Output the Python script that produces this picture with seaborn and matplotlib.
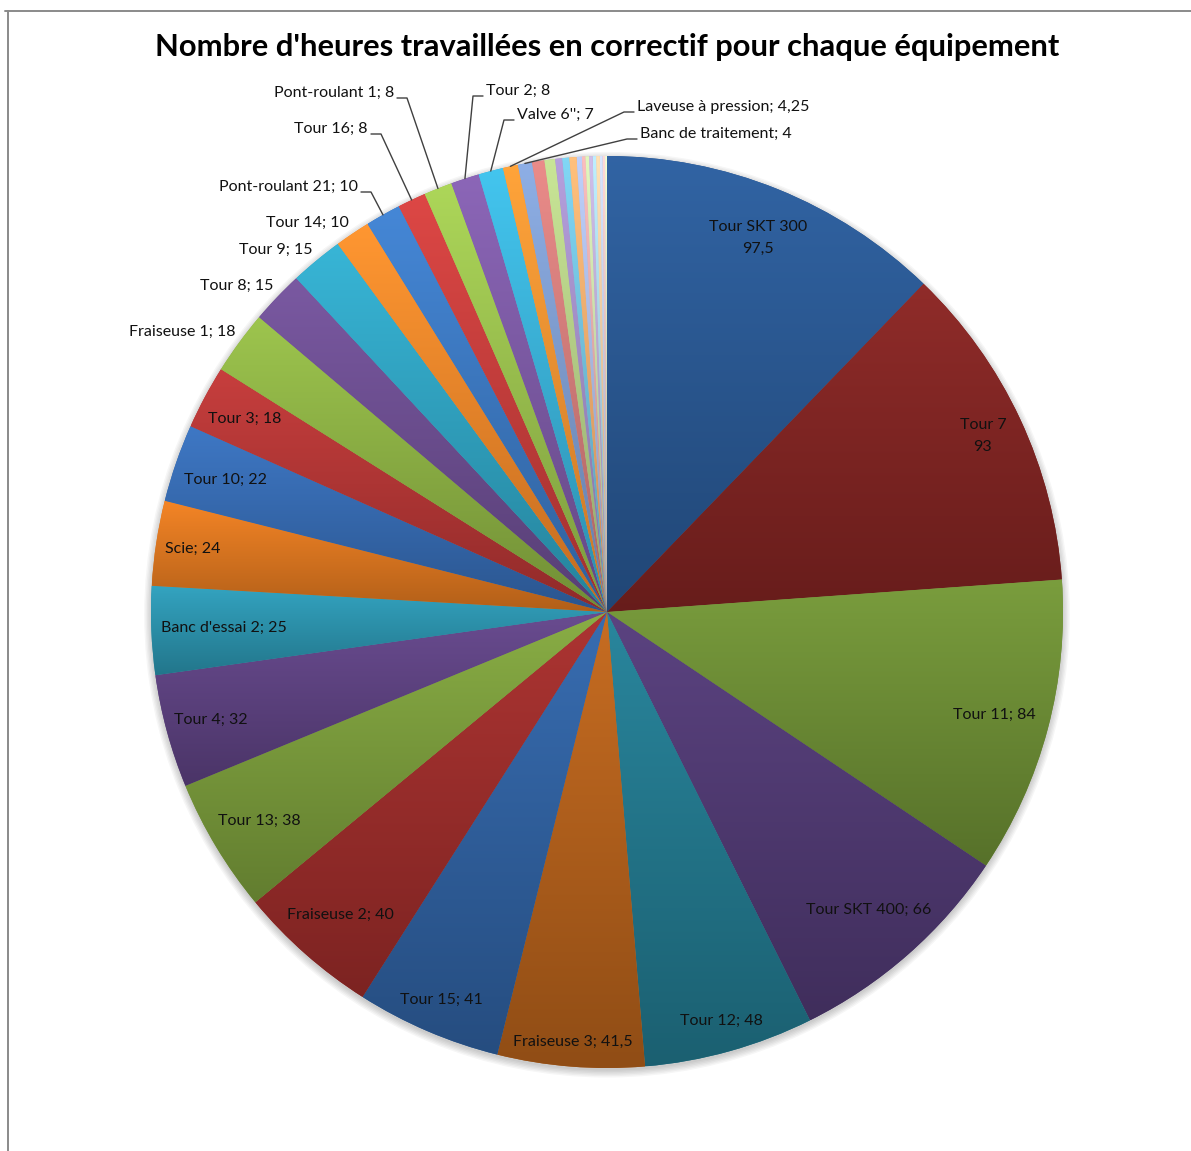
import numpy as np
import matplotlib
matplotlib.use("Agg")
import matplotlib.pyplot as plt
from matplotlib.lines import Line2D
from matplotlib.colors import to_rgb
import seaborn as sns

# ---- data -------------------------------------------------------------
equipements = [
    "Tour SKT 300", "Tour 7", "Tour 11", "Tour SKT 400", "Tour 12",
    "Fraiseuse 3", "Tour 15", "Fraiseuse 2", "Tour 13", "Tour 4",
    "Banc d'essai 2", "Scie", "Tour 10", "Tour 3", "Fraiseuse 1",
    "Tour 8", "Tour 9", "Tour 14", "Pont-roulant 21", "Tour 16",
    "Pont-roulant 1", "Tour 2", "Valve 6''", "Laveuse à pression",
    "Banc de traitement",
    "Équipement 26", "Équipement 27", "Équipement 28", "Équipement 29",
    "Équipement 30", "Équipement 31", "Équipement 32", "Équipement 33",
    "Équipement 34", "Équipement 35", "Équipement 36", "Équipement 37",
    "Équipement 38", "Équipement 39",
]
heures = [
    97.5, 93, 84, 66, 48,
    41.5, 41, 40, 38, 32,
    25, 24, 22, 18, 18,
    15, 15, 10, 10, 8,
    8, 8, 7, 4.25,
    4,
    3.5, 3, 2, 2,
    2, 1.5, 1, 1,
    1, 1, 1, 0.75,
    0.75, 0.5,
]
titre = "Nombre d'heures travaillées en correctif pour chaque équipement"

# ---- styles -------------------------------------------------------------
couleurs = [
    "#285690", "#7E2321", "#6A8A33", "#4E3870", "#21758A",
    "#B05E1A", "#2E5E9C", "#982B29", "#78993A", "#5B407E",
    "#2A90AA", "#D9741E", "#3468AE", "#B03433", "#8AAE42",
    "#6A4C8E", "#2EA0BE", "#EE8428", "#3A76BE", "#C43C3A",
    "#98BE4C", "#7A58A2", "#38AED4", "#F59030", "#7C9ACC",
    "#D07A78", "#B2CC84", "#A08CC4", "#70BEDA", "#F6AA6C",
    "#A8B8E0", "#E0A8A8", "#C8DCA8", "#B8A8D0", "#A8D4E4",
    "#F8C8A0", "#C0CCE8", "#E8C0C0", "#D8E4C0",
]
# label placement: ("in2", r) two-line inside, ("in", r) inside,
# ("out",) beside the rim, ("lead", x_px, y_px, ha) with leader line
placement = {
    0: ("in2", 0.885), 1: ("in2", 0.91), 2: ("in", 0.88), 3: ("in", 0.87),
    4: ("in", 0.93), 5: ("in", 0.945), 6: ("in", 0.925), 7: ("in", 0.885),
    8: ("in", 0.89), 9: ("in", 0.90), 10: ("in", 0.84), 11: ("in", 0.92),
    12: ("in", 0.885), 13: ("in", 0.90),
    14: ("out",), 15: ("out",), 16: ("out",), 17: ("out",),
    18: ("lead", 358, 187, "right"), 19: ("lead", 368, 129, "right"),
    20: ("lead", 394, 93, "right"), 21: ("lead", 486, 91, "left"),
    22: ("lead", 517, 115, "left"), 23: ("lead", 637, 107, "left"),
    24: ("lead", 640, 134, "left"),
}

W, H = 1191, 1151
CX, CY, R = 607, 612, 456


def to_data(px, py):
    return (px - CX) / R, (CY - py) / R


def fmt(v):
    return f"{v:g}".replace(".", ",")


sns.set_theme(style="white")
plt.rcParams["font.family"] = ["Lato", "DejaVu Sans"]

fig = plt.figure(figsize=(W / 100, H / 100), dpi=100)
ax = fig.add_axes([0, 0, 1, 1])
ax.set_axis_off()

# soft shadow under the disc
for k in range(6):
    sh = plt.Circle((0, -0.006), 1.0 + k * 0.003, color="black",
                    alpha=0.035, lw=0, zorder=0)
    ax.add_patch(sh)

wedges, _ = ax.pie(heures, colors=couleurs, startangle=90, counterclock=False,
                   radius=1.0, center=(0, 0),
                   wedgeprops=dict(linewidth=0, edgecolor="none"))

# vertical gradient inside every slice (lighter top, darker bottom)
for w, c in zip(wedges, couleurs):
    verts = w.get_path().vertices
    x0, x1 = verts[:, 0].min(), verts[:, 0].max()
    y0, y1 = verts[:, 1].min(), verts[:, 1].max()
    base = np.array(to_rgb(c))
    top = np.clip(base * 1.10 + 0.02, 0, 1)
    bot = base * 0.82
    t = np.linspace(0, 1, 64)[:, None]
    grad = (bot[None, :] * (1 - t) + top[None, :] * t)[:, None, :]
    im = ax.imshow(grad, extent=[x0, x1, y0, y1], origin="lower",
                   aspect="auto", zorder=2, interpolation="bilinear")
    im.set_clip_path(w)

total = sum(heures)
cum = np.cumsum([0] + heures[:-1])
lab_fs = 11.5
for i, mode in placement.items():
    mid = np.deg2rad(360 * (cum[i] + heures[i] / 2) / total)
    ex, ey = np.sin(mid), np.cos(mid)
    name, val = equipements[i], fmt(heures[i])
    kind = mode[0]
    if kind == "in2":
        r = mode[1]
        ax.text(r * ex, r * ey, f"{name}\n{val}", ha="center", va="center",
                fontsize=lab_fs, color="#111111", linespacing=1.75, zorder=5)
    elif kind == "in":
        r = mode[1]
        ax.text(r * ex, r * ey, f"{name}; {val}", ha="center", va="center",
                fontsize=lab_fs, color="#111111", zorder=5)
    elif kind == "out":
        ax.text(ex - 4 / R, ey + 11 / R, f"{name}; {val}", ha="right",
                va="center", fontsize=lab_fs, color="#111111", zorder=5)
    else:
        _, px, py, ha = mode
        tx, ty = to_data(px, py)
        ax.text(tx, ty, f"{name}; {val}", ha=ha, va="center",
                fontsize=lab_fs, color="#111111", zorder=5)
        sgn = 1 if ha == "right" else -1
        ly = ty - 5 / R
        xs = [tx + sgn * 3 / R, tx + sgn * 13 / R, ex]
        ys = [ly, ly, ey]
        ax.plot(xs, ys, color="#404040", lw=1.0, zorder=4)

ax.set_xlim(-CX / R, (W - CX) / R)
ax.set_ylim(-(H - CY) / R, CY / R)

fig.text(CX / W, 1 - 47 / H, titre, ha="center", va="center",
         fontsize=22.2, fontweight="bold", color="black")

# chart-area frame (top and left edges)
fig.add_artist(Line2D([5 / W, 1], [1 - 11 / H] * 2, color="#8a8a8a", lw=1.4))
fig.add_artist(Line2D([8 / W] * 2, [0, 1 - 11 / H], color="#8a8a8a", lw=1.4))

fig.savefig("out.png", dpi=100)
